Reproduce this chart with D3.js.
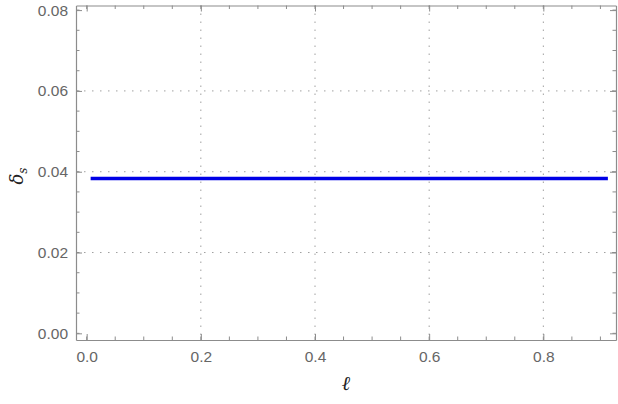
<!DOCTYPE html>
<html><head><meta charset="utf-8">
<script src="https://cdn.jsdelivr.net/npm/d3@7"></script>
<style>body{margin:0;background:#fff}</style>
</head><body>
<svg id="c" width="618" height="404"></svg>
<script>
const xValues = [0.01, 0.91];
const yValues = [0.0383, 0.0383];
const xTicks = [0.0, 0.2, 0.4, 0.6, 0.8];
const yTicks = [0.00, 0.02, 0.04, 0.06, 0.08];
const xGrid = [0.2, 0.4, 0.6, 0.8];
const yGrid = [0.02, 0.04, 0.06];

const svg = d3.select("#c");
const L = 76, R = 616, T = 5.5, B = 340;
const x = d3.scaleLinear().domain([-0.0187, 0.9273]).range([L, R]);
const y = d3.scaleLinear().domain([-0.00165, 0.08114]).range([B, T]);

const gridColor = "#a0a0a0";
svg.append("g").selectAll("line").data(xGrid).join("line")
  .attr("x1", d => x(d)).attr("x2", d => x(d)).attr("y1", T).attr("y2", B)
  .attr("stroke", gridColor).attr("stroke-width", 1).attr("stroke-dasharray", "1.5,6.5");
svg.append("g").selectAll("line").data(yGrid).join("line")
  .attr("y1", d => y(d)).attr("y2", d => y(d)).attr("x1", L).attr("x2", R)
  .attr("stroke", gridColor).attr("stroke-width", 1).attr("stroke-dasharray", "1.5,6.5");

const line = d3.line().x((d, i) => x(xValues[i])).y(d => y(d));
svg.append("path").datum(yValues).attr("d", line)
  .attr("fill", "none").attr("stroke", "#0000e6").attr("stroke-width", 3.5).attr("stroke-linecap", "square");

const axCol = "#8c8c8c";
const xMinor = d3.range(0, 0.93, 0.05);
const yMinor = d3.range(0, 0.0801, 0.005);
const xb = d3.axisBottom(x).tickValues(xTicks).tickFormat(d3.format(".1f")).tickSizeInner(-6).tickSizeOuter(0).tickPadding(11);
const xt = d3.axisTop(x).tickValues(xTicks).tickFormat("").tickSizeInner(-6).tickSizeOuter(0);
const yl = d3.axisLeft(y).tickValues(yTicks).tickFormat(d3.format(".2f")).tickSizeInner(-6).tickSizeOuter(0).tickPadding(8);
const yr = d3.axisRight(y).tickValues(yTicks).tickFormat("").tickSizeInner(-6).tickSizeOuter(0);

function minor(g, vals, orient) {
  g.selectAll("line.mn").data(vals).join("line").attr("class", "mn")
    .attr("stroke", axCol).attr("stroke-width", 1)
    .each(function(d) {
      const s = d3.select(this);
      if (orient === "b") s.attr("x1", x(d)).attr("x2", x(d)).attr("y1", B).attr("y2", B - 3.5);
      if (orient === "t") s.attr("x1", x(d)).attr("x2", x(d)).attr("y1", T).attr("y2", T + 3.5);
      if (orient === "l") s.attr("y1", y(d)).attr("y2", y(d)).attr("x1", L).attr("x2", L + 3.5);
      if (orient === "r") s.attr("y1", y(d)).attr("y2", y(d)).attr("x1", R).attr("x2", R - 3.5);
    });
}
function style(g) {
  g.selectAll(".domain").attr("stroke", axCol).attr("stroke-width", 1.2);
  g.selectAll(".tick line").attr("stroke", axCol);
  g.selectAll(".tick text").attr("fill", "#666").style("font-family", "Liberation Sans, Arial, sans-serif").style("font-size", "15.5px");
}
const gb = svg.append("g").attr("transform", `translate(0,${B})`).call(xb); style(gb);
const gt = svg.append("g").attr("transform", `translate(0,${T})`).call(xt); style(gt);
const gl = svg.append("g").attr("transform", `translate(${L},0)`).call(yl); style(gl);
const gr = svg.append("g").attr("transform", `translate(${R},0)`).call(yr); style(gr);
minor(svg.append("g"), xMinor, "b");
minor(svg.append("g"), xMinor, "t");
minor(svg.append("g"), yMinor, "l");
minor(svg.append("g"), yMinor, "r");

svg.append("text").attr("x", 346).attr("y", 390).attr("text-anchor", "middle")
  .style("font-family", "DejaVu Serif, serif").style("font-style", "italic").style("font-size", "20px").attr("fill", "#222").text("ℓ");
const yl2 = svg.append("text").attr("transform", "translate(23,176) rotate(-90)").attr("text-anchor", "middle")
  .style("font-family", "DejaVu Serif, serif").style("font-style", "italic").style("font-size", "18px").attr("fill", "#222");
yl2.append("tspan").text("δ");
yl2.append("tspan").attr("dy", 4).style("font-size", "12px").text("s");
</script>
</body></html>
